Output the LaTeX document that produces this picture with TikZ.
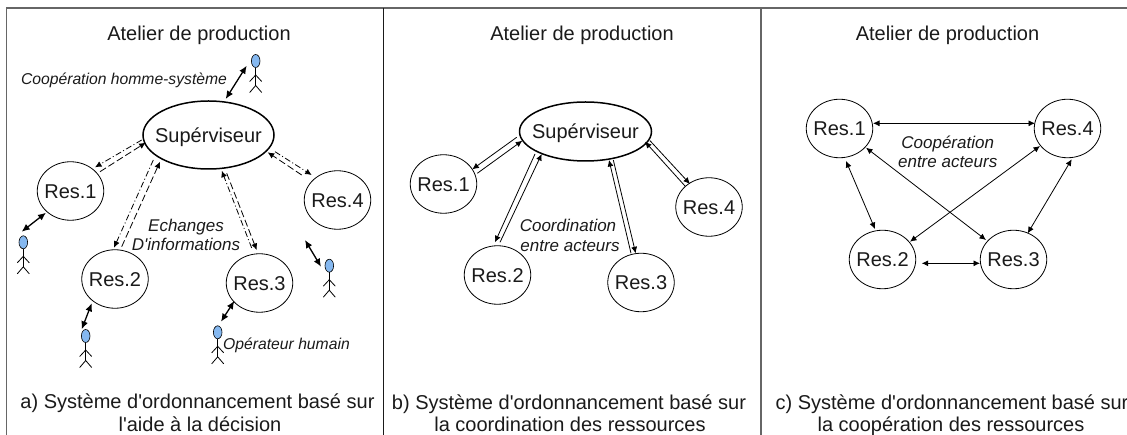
\documentclass[tikz,border=0pt]{standalone}
\usepackage{fontspec}
\setmainfont{Liberation Sans}[Ligatures=TeXOff]
\usetikzlibrary{shapes.geometric,arrows.meta}
\definecolor{ink}{HTML}{1A1A1A}
\definecolor{headblue}{HTML}{85B8F0}
\definecolor{framegray}{HTML}{666666}
\tikzset{
  frameline/.style={draw=framegray,line width=1.4pt},
  restext/.style={font=\fontsize{20}{24}\selectfont,text=ink,text height=14.5pt,text depth=0pt,inner sep=0pt},
  resnode/.style={draw=black,ellipse,inner sep=0pt,minimum width=66.5pt,minimum height=58.5pt,line width=0.8pt},
  supnode/.style={draw=black,ellipse,inner sep=0pt,line width=1.5pt},
  title/.style={font=\fontsize{20}{24}\selectfont,text=ink,anchor=base,inner sep=0pt},
  caption/.style={font=\fontsize{20}{24}\selectfont,text=ink,anchor=base,inner sep=0pt},
  labA/.style={font=\itshape\fontsize{15.7}{19}\selectfont,text=ink,anchor=base,inner sep=0pt},
  labB/.style={font=\itshape\fontsize{17}{20}\selectfont,text=ink,anchor=base,inner sep=0pt},
  head/.style={draw=black,fill=headblue,ellipse,inner sep=0pt,minimum width=8.6pt,minimum height=13pt,line width=0.6pt},
  limb/.style={draw=black,line width=0.8pt},
  thickarr/.style={draw=black,line width=1.3pt,{Latex[length=8pt,width=7pt]}-{Latex[length=8pt,width=7pt]}},
  thinarr/.style={draw=black,line width=0.8pt,{Latex[length=6.5pt,width=6pt]}-{Latex[length=6.5pt,width=6pt]}},
  oneway/.style={draw=black,line width=0.8pt,-{Latex[length=6.5pt,width=6pt]}},
  dashone/.style={oneway,dash pattern=on 7pt off 3pt},
  dotone/.style={oneway,dash pattern=on 6pt off 2.5pt on 1pt off 2.5pt},
}
\newcommand{\resnd}[4]{\node[resnode,label={[restext]center:#4}] (#1) at (#2,#3) {};}
\newcommand{\actor}[3]{%
  \node[head] (#1) at (#2,#3) {};
  \draw[limb] (#1.south) -- ++(0,18);
  \draw[limb] ([shift={(-6,20.5)}]#1.center) -- ([shift={(0,14)}]#1.center) -- ([shift={(6,20.5)}]#1.center);
  \draw[limb] ([shift={(-6,31.5)}]#1.center) -- ([shift={(0,24.5)}]#1.center) -- ([shift={(6,31.5)}]#1.center);
}
\begin{document}
\begin{tikzpicture}[x=1pt,y=-1pt]
\useasboundingbox (0,0) rectangle (1127,435);
% frame
\coordinate (fa) at (6.5,435);
\coordinate (fb) at (6.5,8);
\coordinate (fc) at (1127,8);
\coordinate (fd) at (383,8);
\coordinate (fe) at (383,435);
\coordinate (ff) at (761,8);
\coordinate (fg) at (761,435);
\draw[frameline] (fa) -- (fb) -- (fc);
\draw[draw=ink,line width=1pt] (fd) -- (fe);
\draw[frameline] (ff) -- (fg);
% titles
\node[title] (ta) at (199,40.5) {Atelier de production};
\node[title] (tb) at (582,40.5) {Atelier de production};
\node[title] (tc) at (947.5,40.5) {Atelier de production};
% panel a
\node[supnode,minimum width=131pt,minimum height=68pt,label={[restext]center:Supérviseur}] (as) at (208.5,135) {};
\resnd{a1}{70.5}{191}{Res.1}
\resnd{a2}{115}{279}{Res.2}
\resnd{a3}{259.5}{283}{Res.3}
\resnd{a4}{337.5}{200}{Res.4}
\draw[dotone] ([shift={(-66.8,5)}]as.center) -- ([shift={(24.5,-23.7)}]a1.center);
\draw[dashone] ([shift={(29.5,-19.3)}]a1.center) -- ([shift={(-62.8,7.7)}]as.center);
\draw[dotone] ([shift={(-55.2,25)}]as.center) -- ([shift={(-1,-31.3)}]a2.center);
\draw[dashone] ([shift={(6.7,-32.3)}]a2.center) -- ([shift={(-48.5,26.7)}]as.center);
\draw[dotone] ([shift={(-7.8,-35)}]a3.center) -- ([shift={(13.2,35.7)}]as.center);
\draw[dashone] ([shift={(18.2,38.3)}]as.center) -- ([shift={(-2.8,-33)}]a3.center);
\draw[dotone] ([shift={(66.5,16.7)}]as.center) -- ([shift={(-25.8,-25)}]a4.center);
\draw[dashone] ([shift={(-35.8,-25)}]a4.center) -- ([shift={(59.2,17.3)}]as.center);
\actor{p0}{255.7}{61}
\actor{p1}{23.3}{242.3}
\actor{p2}{85.7}{336}
\actor{p3}{217.7}{332.3}
\actor{p4}{329.3}{265.7}
\coordinate (p4free) at (305,240);
\draw[thickarr] ([shift={(-9,4.7)}]p0.center) -- ([shift={(17.2,-36)}]as.center);
\draw[thickarr] ([shift={(-24.5,21.7)}]a1.center) -- ([shift={(-1.6,-10.6)}]p1.center);
\draw[thickarr] ([shift={(-23.3,24.3)}]a2.center) -- ([shift={(-4,-6.7)}]p2.center);
\draw[thickarr] ([shift={(-25.2,18)}]a3.center) -- ([shift={(3.3,-10.6)}]p3.center);
\draw[thickarr] (p4free) -- ([shift={(-8.3,1)}]p4.center);
\node[labA] (la1) at (124,84.5) {Coopération homme-système};
\node[labB] (la2) at (186,232) {Echanges};
\node[labB] (la3) at (186,250.3) {D'informations};
\node[labA] (la4) at (286.5,349.5) {Opérateur humain};
\node[caption] (ca1) at (197.5,409) {a) Système d'ordonnancement basé sur};
\node[caption] (ca2) at (200,431) {l'aide à la décision};
% panel b
\node[supnode,minimum width=132pt,minimum height=59pt,label={[restext]center:Supérviseur}] (bs) at (585.5,131.5) {};
\resnd{b1}{443.5}{184}{Res.1}
\resnd{b2}{497.5}{275}{Res.2}
\resnd{b3}{641}{282.5}{Res.3}
\resnd{b4}{709}{207}{Res.4}
\draw[oneway] ([shift={(-68.8,5.8)}]bs.center) -- ([shift={(28.8,-14.7)}]b1.center);
\draw[oneway] ([shift={(33.8,-10.7)}]b1.center) -- ([shift={(-63.2,9.2)}]bs.center);
\draw[oneway] ([shift={(-50.5,22.5)}]bs.center) -- ([shift={(-2.5,-32.7)}]b2.center);
\draw[oneway] ([shift={(2.5,-32.7)}]b2.center) -- ([shift={(-43.8,22.5)}]bs.center);
\draw[oneway] ([shift={(-10,-29.2)}]b3.center) -- ([shift={(23.5,28.5)}]bs.center);
\draw[oneway] ([shift={(27.8,28.5)}]bs.center) -- ([shift={(-5.3,-29.2)}]b3.center);
\draw[oneway] ([shift={(-24,-21)}]b4.center) -- ([shift={(59.5,10.2)}]bs.center);
\draw[oneway] ([shift={(64.5,9.2)}]bs.center) -- ([shift={(-19,-23)}]b4.center);
\node[labB] (lb1) at (568,231.7) {Coordination};
\node[labB] (lb2) at (570,251.7) {entre acteurs};
\node[caption] (cb1) at (569,409.5) {b) Système d'ordonnancement basé sur};
\node[caption] (cb2) at (570,431.5) {la coordination des ressources};
% panel c
\resnd{c1}{839.5}{128.5}{Res.1}
\resnd{c4}{1067.5}{128.5}{Res.4}
\resnd{c2}{882.5}{259.5}{Res.2}
\resnd{c3}{1013.5}{259.5}{Res.3}
\draw[thinarr] ([shift={(33.5,-5.2)}]c1.center) -- ([shift={(-32.5,-5.2)}]c4.center);
\draw[thinarr] ([shift={(26.5,19.2)}]c1.center) -- ([shift={(-27.5,-19.5)}]c3.center);
\draw[thinarr] ([shift={(6.5,32.5)}]c1.center) -- ([shift={(-7.5,-30.5)}]c2.center);
\draw[thinarr] ([shift={(-27.5,17.5)}]c4.center) -- ([shift={(27.5,-17.8)}]c2.center);
\draw[thinarr] ([shift={(4.2,30.8)}]c4.center) -- ([shift={(14.2,-26.2)}]c3.center);
\draw[thinarr] ([shift={(39.2,3.8)}]c2.center) -- ([shift={(-33.5,3.8)}]c3.center);
\node[labB] (lc1) at (947.7,148.3) {Coopération};
\node[labB] (lc2) at (947.7,167.7) {entre acteurs};
\node[caption] (cc1) at (952,409.5) {c) Système d'ordonnancement basé sur};
\node[caption] (cc2) at (951,431.5) {la coopération des ressources};
\end{tikzpicture}
\end{document}
